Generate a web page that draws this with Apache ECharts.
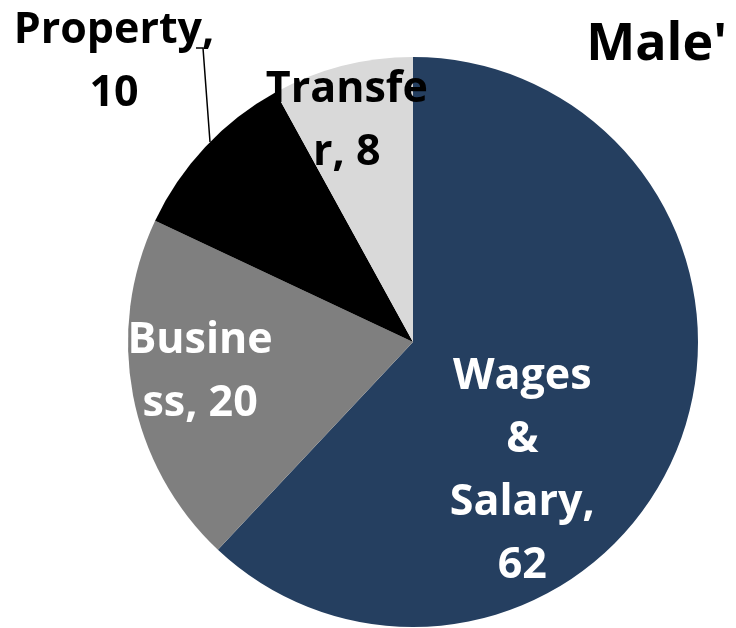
<!DOCTYPE html>
<html>
<head>
<meta charset="utf-8">
<script src="https://cdn.jsdelivr.net/npm/echarts@6/dist/echarts.min.js"></script>
<style>
  html, body { margin: 0; padding: 0; background: #fff; }
  #main { width: 736px; height: 628px; }
</style>
</head>
<body>
<div id="main"></div>
<script>
// pie data, clockwise from 12 o'clock
const categories = ["Wages & Salary", "Business", "Property", "Transfer"];
const values = [62, 20, 10, 8];
const labelTexts = ["Wages\n&\nSalary,\n62", "Busine\nss, 20", "Property,\n10", "Transfe\nr, 8"];
const colors = ["#253F60", "#7F7F7F", "#000000", "#D9D9D9"];

const chart = echarts.init(document.getElementById("main"));

const labelOffsets = [[-26, 76], [-70, 3], [0, 0], [-30, -80]];
const labelColors = ["#fff", "#fff", "#000", "#000"];

const option = {
  backgroundColor: "#fff",
  animation: false,
  title: {
    text: "Male'",
    right: 4,
    top: 14,
    textStyle: {
      fontFamily: "Open Sans",
      fontWeight: "bold",
      fontSize: 52,
      color: "#000"
    }
  },
  series: [
    {
      type: "pie",
      center: [413, 342],
      radius: 285,
      startAngle: 90,
      clockwise: true,
      avoidLabelOverlap: false,
      itemStyle: { borderWidth: 0 },
      data: categories.map((c, i) => ({
        name: c,
        value: values[i],
        itemStyle: { color: colors[i] },
        label: i === 2
          ? {
              show: true,
              position: "outside",
              formatter: labelTexts[i],
              color: labelColors[i]
            }
          : {
              show: true,
              position: "inside",
              formatter: labelTexts[i],
              color: labelColors[i],
              offset: labelOffsets[i]
            },
        labelLine: i === 2
          ? { show: true, length: 10, length2: 10, lineStyle: { color: "#000", width: 1.5 } }
          : { show: false }
      })),
      label: {
        fontFamily: "Open Sans",
        fontWeight: "bold",
        fontSize: 43,
        lineHeight: 63,
        align: "center"
      },
      labelLayout: function (params) {
        if (params.dataIndex === 2) {
          return {
            x: 114,
            y: 62,
            align: "center",
            verticalAlign: "middle",
            labelLinePoints: [[210, 142], [203, 48], [196, 48]]
          };
        }
      }
    }
  ]
};

chart.setOption(option);
</script>
</body>
</html>
